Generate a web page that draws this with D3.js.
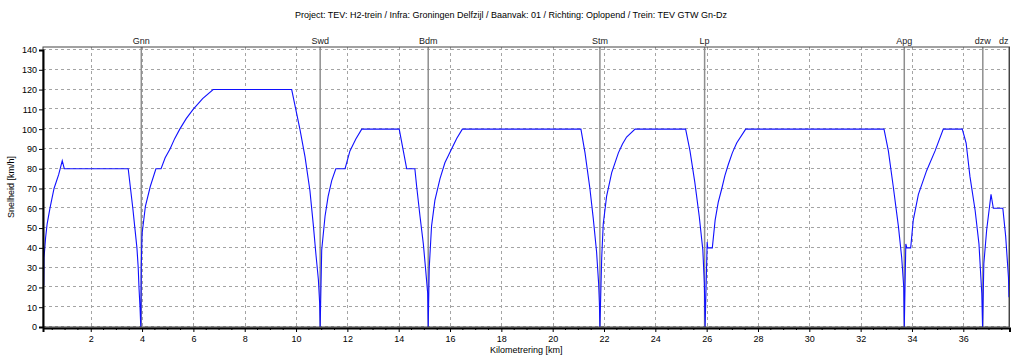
<!DOCTYPE html>
<html>
<head>
<meta charset="utf-8">
<script src="https://cdn.jsdelivr.net/npm/d3@7"></script>
<style>
  html, body { margin: 0; padding: 0; background: #fff; }
  svg { display: block; font-family: "Liberation Sans", Arial, sans-serif; }
</style>
</head>
<body>
<svg id="chart" width="1025" height="356"></svg>
<script>
// Speed profile: position along the line (km) and speed (km/h)
const profileKm = [
  0.17, 0.18, 0.24, 0.30, 0.41, 0.57, 0.75, 0.89, 0.97, 3.46,
  3.55, 3.64, 3.72, 3.80, 3.85, 3.88, 3.92, 3.95, 3.97, 4.00,
  4.13, 4.32, 4.54, 4.74, 4.90, 5.09, 5.27, 5.47, 5.72, 5.99,
  6.36, 6.77, 9.83, 10.15,
  10.35, 10.54, 10.67, 10.78, 10.87, 10.92, 10.94, 11.00, 11.13, 11.25,
  11.39, 11.55, 11.91, 12.10, 12.33, 12.56, 14.02, 14.18, 14.31, 14.63, 14.70,
  14.83, 14.96, 15.05, 15.13, 15.15, 15.19, 15.28, 15.41, 15.61, 15.80,
  16.06, 16.26, 16.48, 21.10, 21.26, 21.45, 21.58, 21.71, 21.79, 21.82, 21.84,
  21.91, 21.97, 22.10, 22.30, 22.56, 22.72, 22.88, 23.21, 25.18, 25.35, 25.54,
  25.71, 25.85, 25.91, 25.94, 26.02, 26.04, 26.22, 26.33, 26.45, 26.59, 26.71, 26.84,
  27.00, 27.17, 27.52, 32.91, 33.08, 33.27, 33.47, 33.60, 33.68, 33.70, 33.76,
  33.80, 33.95, 34.05, 34.25, 34.57, 34.90, 35.22, 35.96, 36.11, 36.26,
  36.46, 36.61, 36.72, 36.75, 36.80, 36.91, 37.08, 37.17, 37.54, 37.65,
  37.76, 37.78
];
const profileSpeed = [
  21, 35, 45, 52, 60, 70, 77, 84, 80, 80,
  70, 60, 50, 40, 30, 20, 10, 0, 31, 47,
  61, 71, 80, 80, 85.5, 90, 95.2, 100, 105.3, 110,
  115.4, 120, 120, 100,
  86, 69, 52, 36, 24, 12, 0, 39, 56, 66,
  74, 80, 80, 89, 95, 100, 100, 89, 80, 80, 71,
  56, 42, 29, 17, 0, 30, 51, 64, 75, 83,
  90, 95.3, 100, 100, 88, 70, 55, 38, 22, 12, 0,
  35, 52, 66, 78, 88, 92.5, 96, 100, 100, 89, 73,
  56, 39, 22, 0, 43, 40, 40, 54, 63, 70, 76.5, 82,
  88, 93, 100, 100, 89, 71, 51, 35, 20, 0, 42,
  40, 40, 54, 67, 79, 89, 100, 100, 93, 76,
  59, 42, 17, 0, 32, 49, 67, 60, 60, 46,
  25, 15
];

// Stations along the route
const stationNames = ["Gnn", "Swd", "Bdm", "Stm", "Lp", "Apg", "dzw", "dz"];
const stationKm    = [3.97, 10.94, 15.15, 21.84, 25.92, 33.70, 36.76, 37.78];

// Axis ticks
const xTickValues = [2, 4, 6, 8, 10, 12, 14, 16, 18, 20, 22, 24, 26, 28, 30, 32, 34, 36];
const yTickValues = [0, 10, 20, 30, 40, 50, 60, 70, 80, 90, 100, 110, 120, 130, 140];

const titleText = "Project: TEV: H2-trein / Infra: Groningen Delfzijl / Baanvak: 01 / Richting: Oplopend / Trein: TEV GTW Gn-Dz";
const xLabel = "Kilometrering [km]";
const yLabel = "Snelheid [km/h]";

const svg = d3.select("#chart");
const plot = { left: 43, right: 1009.5, top: 47, bottom: 327 };
const fontSize = 9;

const x = d3.scaleLinear().domain([0.14, 37.8]).range([plot.left, plot.right]);
const y = d3.scaleLinear().domain([0, 140]).range([plot.bottom, 50]);

// Title
svg.append("text")
  .attr("x", 511).attr("y", 18)
  .attr("text-anchor", "middle")
  .attr("font-size", fontSize)
  .attr("fill", "#000")
  .text(titleText);

// Grid lines
const grid = svg.append("g").attr("stroke", "#a4a4a4").attr("stroke-dasharray", "3,3").attr("stroke-width", 1);
grid.selectAll("line.h").data(yTickValues).join("line")
  .attr("class", "h")
  .attr("x1", plot.left).attr("x2", plot.right)
  .attr("y1", d => Math.round(y(d)) - 0.5).attr("y2", d => Math.round(y(d)) - 0.5);
grid.selectAll("line.v").data(xTickValues).join("line")
  .attr("class", "v")
  .attr("x1", d => Math.round(x(d)) + 0.5).attr("x2", d => Math.round(x(d)) + 0.5)
  .attr("y1", plot.top).attr("y2", plot.bottom);

// Station marker lines and names
const st = svg.append("g");
st.selectAll("line").data(stationKm).join("line")
  .attr("x1", d => x(d)).attr("x2", d => x(d))
  .attr("y1", plot.top).attr("y2", plot.bottom)
  .attr("stroke", "#8e8e8e").attr("stroke-width", 1.5);
st.selectAll("text").data(stationNames).join("text")
  .attr("x", (d, i) => x(stationKm[i]))
  .attr("y", 44)
  .attr("text-anchor", "middle")
  .attr("font-size", fontSize)
  .attr("fill", "#222")
  .text(d => d)
  .each(function () {
    // keep names inside the plot's right edge
    const w = this.getComputedTextLength();
    const cx = +this.getAttribute("x");
    if (cx + w / 2 > plot.right - 1) this.setAttribute("x", plot.right - 1 - w / 2);
  });

// Speed curve
const pts = profileKm.map((k, i) => [k, profileSpeed[i]]);
svg.append("path")
  .datum(pts)
  .attr("fill", "none")
  .attr("stroke", "#1010ff")
  .attr("stroke-width", 1.1)
  .attr("d", d3.line().x(d => x(d[0])).y(d => y(d[1])));

// Frame
svg.append("rect")
  .attr("x", plot.left).attr("y", plot.top)
  .attr("width", plot.right - plot.left).attr("height", plot.bottom - plot.top)
  .attr("fill", "none").attr("stroke", "#444").attr("stroke-width", 1);

// Y axis
const yAxis = svg.append("g")
  .attr("transform", `translate(${plot.left},0)`)
  .call(d3.axisLeft(y).tickValues(yTickValues).tickSize(4).tickPadding(2));
yAxis.select(".domain").attr("stroke", "#000").attr("stroke-width", 2);
yAxis.selectAll("text").attr("font-size", fontSize).attr("fill", "#000")
  .attr("font-family", "Liberation Sans, Arial, sans-serif");

// X axis with minor ticks
const xAxis = svg.append("g")
  .attr("transform", `translate(0,${plot.bottom + 1})`)
  .call(d3.axisBottom(x).tickValues(xTickValues).tickSize(4).tickPadding(4));
xAxis.select(".domain").attr("stroke", "#000").attr("stroke-width", 2);
xAxis.selectAll("text").attr("font-size", fontSize).attr("fill", "#000")
  .attr("font-family", "Liberation Sans, Arial, sans-serif");
xAxis.selectAll("line.minor")
  .data(d3.range(0.5, 37.8, 0.5).filter(v => v % 2 !== 0))
  .join("line")
  .attr("class", "minor")
  .attr("x1", d => x(d)).attr("x2", d => x(d))
  .attr("y1", 0).attr("y2", 2)
  .attr("stroke", "#000");

// Axis titles
svg.append("text")
  .attr("x", (plot.left + plot.right) / 2).attr("y", 353)
  .attr("text-anchor", "middle")
  .attr("font-size", fontSize)
  .text(xLabel);
svg.append("text")
  .attr("transform", `translate(14,${(plot.top + plot.bottom) / 2}) rotate(-90)`)
  .attr("text-anchor", "middle")
  .attr("font-size", fontSize)
  .text(yLabel);
</script>
</body>
</html>
